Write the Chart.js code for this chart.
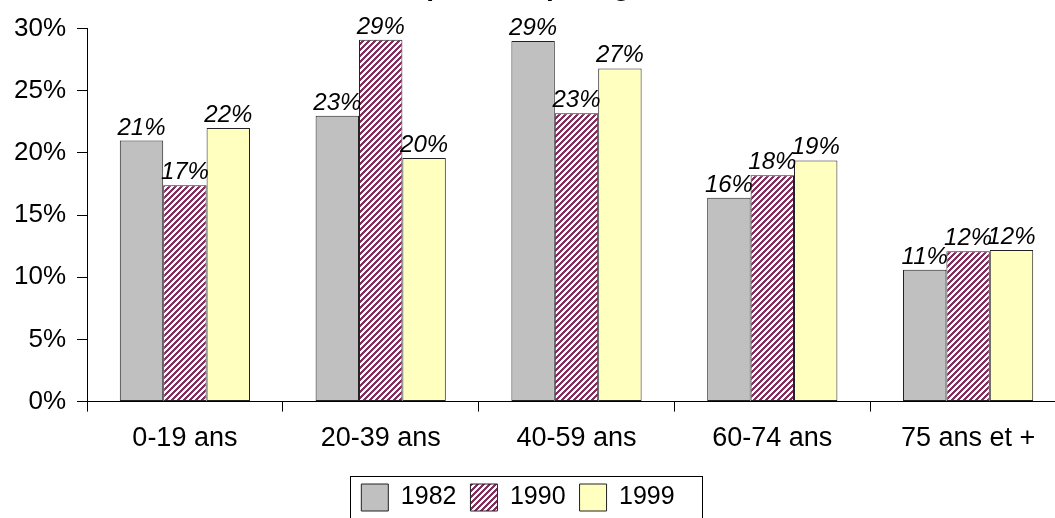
<!DOCTYPE html>
<html>
<head>
<meta charset="utf-8">
<script src="https://cdn.jsdelivr.net/npm/chart.js@4/dist/chart.umd.min.js"></script>
<style>
  html, body { margin: 0; padding: 0; background: #fff; overflow: hidden; }
  body { width: 1055px; height: 518px; position: relative; }
  #chart { position: absolute; left: -30px; top: -60px; }
</style>
</head>
<body>
<canvas id="chart" width="1096" height="581"></canvas>
<script>
const categories = ["0-19 ans", "20-39 ans", "40-59 ans", "60-74 ans", "75 ans et +"];
const years = ["1982", "1990", "1999"];
const values1982 = [21.0, 23.0, 29.0, 16.4, 10.6];
const values1990 = [17.4, 29.1, 23.2, 18.2, 12.1];
const values1999 = [22.0, 19.6, 26.8, 19.4, 12.2];
const yMax = 30;
const yStep = 5;

const FONT = "'Liberation Sans', Arial, sans-serif";

// diagonal "/" stripes, purple on white
function makeHatch() {
  const n = 6;
  const c = document.createElement("canvas");
  c.width = n;
  c.height = n;
  const g = c.getContext("2d");
  g.fillStyle = "#fff";
  g.fillRect(0, 0, n, n);
  g.fillStyle = "#862d60";
  for (let x = 0; x < n; x++) {
    for (let y = 0; y < n; y++) {
      if ((x + y) % n < 3) g.fillRect(x, y, 1, 1);
    }
  }
  return g.createPattern(c, "repeat");
}

const valueLabels = {
  id: "valueLabels",
  afterDatasetsDraw(chart) {
    const ctx = chart.ctx;
    ctx.save();
    ctx.font = "italic 24px " + FONT;
    ctx.fillStyle = "#000";
    ctx.textAlign = "center";
    ctx.textBaseline = "alphabetic";
    chart.data.datasets.forEach((ds, i) => {
      chart.getDatasetMeta(i).data.forEach((bar, j) => {
        ctx.fillText(Math.round(ds.data[j]) + "%", bar.x, bar.y - 6);
      });
    });
    ctx.restore();
  }
};

const legendFrame = {
  id: "legendFrame",
  afterDraw(chart) {
    const boxes = chart.legend.legendHitBoxes;
    if (!boxes || !boxes.length) return;
    const left = Math.min(...boxes.map(b => b.left)) - 11;
    const right = Math.max(...boxes.map(b => b.left + b.width)) + 28;
    const top = Math.min(...boxes.map(b => b.top)) - 8;
    const ctx = chart.ctx;
    ctx.save();
    ctx.strokeStyle = "#000";
    ctx.lineWidth = 1;
    ctx.strokeRect(Math.round(left) + 0.5, Math.round(top) + 0.5, Math.round(right - left), 80);
    ctx.restore();
  }
};

const barStyle = {
  borderColor: "#222",
  borderWidth: 1,
  borderSkipped: false,
  barPercentage: 1,
  categoryPercentage: 0.665
};

new Chart(document.getElementById("chart"), {
  type: "bar",
  data: {
    labels: categories,
    datasets: [
      { label: years[0], data: values1982, backgroundColor: "#c0c0c0", ...barStyle },
      { label: years[1], data: values1990, backgroundColor: makeHatch(), ...barStyle },
      { label: years[2], data: values1999, backgroundColor: "#ffffc0", ...barStyle }
    ]
  },
  options: {
    responsive: false,
    animation: false,
    layout: { padding: 0 },
    plugins: {
      title: {
        display: true,
        text: "Répartition par âge",
        color: "#000",
        font: { family: FONT, size: 28, weight: "bold" },
        padding: { top: 30, bottom: 25 }
      },
      legend: {
        position: "bottom",
        labels: {
          color: "#000",
          font: { family: FONT, size: 25 },
          boxWidth: 27,
          boxHeight: 27,
          padding: 14
        }
      },
      tooltip: { enabled: false }
    },
    scales: {
      x: {
        offset: true,
        grid: {
          offset: true,
          drawOnChartArea: false,
          drawTicks: true,
          tickLength: 10,
          color: "#000"
        },
        border: { display: true, color: "#000", width: 1 },
        ticks: {
          color: "#000",
          font: { family: FONT, size: 27 },
          padding: 11,
          maxRotation: 0,
          autoSkip: false
        },
        afterFit(scale) {
          scale.height += 4;
        }
      },
      y: {
        min: 0,
        max: yMax,
        grid: {
          drawOnChartArea: false,
          drawTicks: true,
          tickLength: 10,
          color: "#000"
        },
        border: { display: true, color: "#000", width: 1 },
        ticks: {
          stepSize: yStep,
          color: "#000",
          font: { family: FONT, size: 26 },
          padding: 11,
          callback: v => v + "%"
        },
        afterFit(scale) {
          scale.width = 117;
        }
      }
    }
  },
  plugins: [valueLabels, legendFrame]
});
</script>
</body>
</html>
